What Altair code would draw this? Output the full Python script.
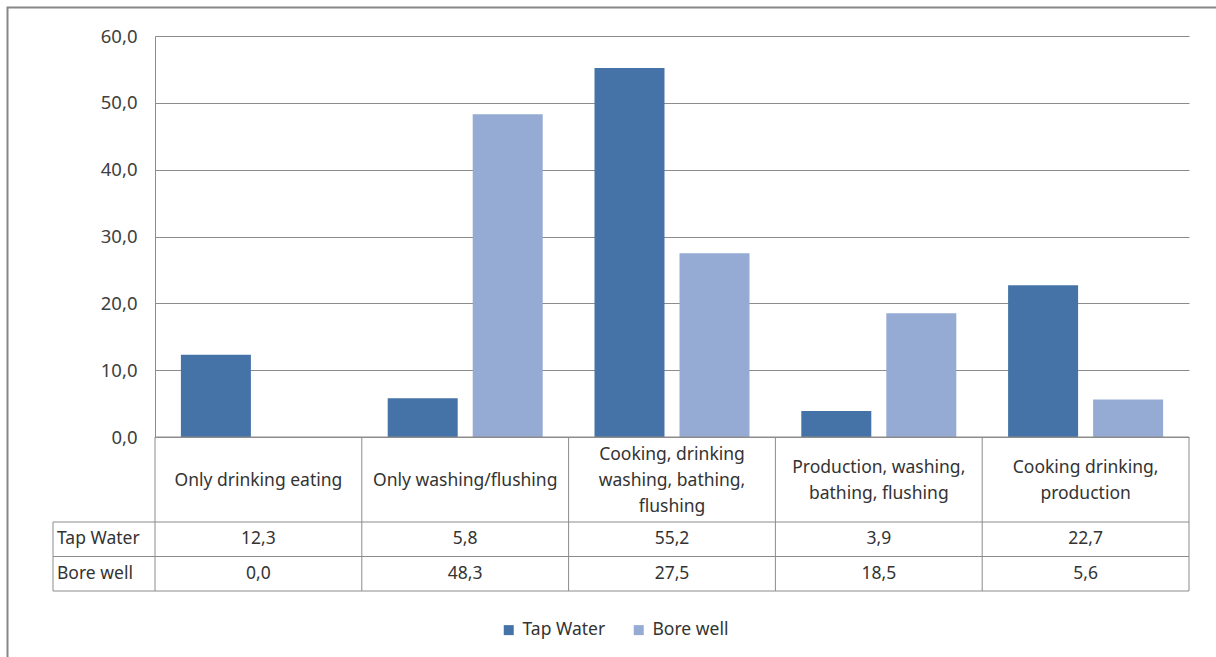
import altair as alt
import pandas as pd

# Household water use by source (%)
categories = [
    "Only drinking eating",
    "Only washing/flushing",
    "Cooking, drinking washing, bathing, flushing",
    "Production, washing, bathing, flushing",
    "Cooking drinking, production",
]
# category captions as wrapped in the table header
header_lines = [
    "Only drinking eating",
    "Only washing/flushing",
    "Cooking, drinking\nwashing, bathing,\nflushing",
    "Production, washing,\nbathing, flushing",
    "Cooking drinking,\nproduction",
]
series = ["Tap Water", "Bore well"]
tap_water = [12.3, 5.8, 55.2, 3.9, 22.7]
bore_well = [0.0, 48.3, 27.5, 18.5, 5.6]
y_ticks = [0, 10, 20, 30, 40, 50, 60]
colors = ["#4573a7", "#95abd3"]

FONT = "Noto Sans"
TEXT = "#333333"
LINE = "#8c8c8c"
FS = 17.5
LH = 26
W, H = 1034, 401          # plot area
ROW_HEAD, ROW = 85, 34.5  # table row heights
LEFT_COL = 102            # width of the row-label column

def fmt(v):
    return f"{v:.1f}".replace(".", ",")

rows = []
for name, vals in zip(series, [tap_water, bore_well]):
    for c, v in zip(categories, vals):
        rows.append({"category": c, "series": name, "value": v, "label": fmt(v)})
long_df = pd.DataFrame(rows)
cat_df = pd.DataFrame({"category": categories, "header": header_lines,
                       "nlines": [h.count("\n") + 1 for h in header_lines]})
series_df = pd.DataFrame({"series": series})

x_enc = alt.X("category:N", sort=categories, axis=None,
              scale=alt.Scale(paddingInner=0, paddingOuter=0))
x_mid = alt.X("category:N", sort=categories, axis=None, bandPosition=0.5,
              scale=alt.Scale(paddingInner=0, paddingOuter=0))
x_edge = alt.X("category:N", sort=categories, axis=None, bandPosition=0,
               scale=alt.Scale(paddingInner=0, paddingOuter=0))

bars = alt.Chart(long_df).mark_bar().encode(
    x=x_enc,
    xOffset=alt.XOffset("series:N", sort=series,
                        scale=alt.Scale(paddingInner=0.1765, paddingOuter=0.3046)),
    y=alt.Y("value:Q",
            scale=alt.Scale(domain=[0, 60], nice=False),
            axis=alt.Axis(values=y_ticks, title=None, grid=True, gridColor=LINE,
                          gridWidth=1, domain=True, domainColor=LINE, ticks=False,
                          labelPadding=18, labelFontSize=18.5, labelFont=FONT,
                          labelColor="#404040",
                          labelExpr="replace(format(datum.value, '.1f'), '.', ',')")),
    color=alt.Color("series:N", sort=series,
                    scale=alt.Scale(domain=series, range=colors),
                    legend=alt.Legend(title=None, orient="none", direction="horizontal",
                                      legendX=345, legendY=585, symbolType="square",
                                      symbolSize=100, symbolStrokeWidth=0,
                                      labelFontSize=FS, labelFont=FONT,
                                      labelColor=TEXT, labelOffset=5,
                                      columnPadding=24, padding=0)),
)

layers = [bars]

# table header with category captions, block-centred in the header row
for n in sorted(cat_df["nlines"].unique()):
    layers.append(
        alt.Chart(cat_df).transform_filter(alt.datum.nlines == int(n)).mark_text(
            lineBreak="\n", baseline="middle", align="center", fontSize=FS,
            font=FONT, color=TEXT, lineHeight=LH,
        ).encode(x=x_mid, y=alt.value(H + ROW_HEAD / 2 + 1 - (int(n) - 1) * LH / 2),
                 text="header:N")
    )

# table rows: series names and values
for i, name in enumerate(series):
    yc = H + ROW_HEAD + ROW * i + ROW / 2
    layers.append(
        alt.Chart(long_df).transform_filter(alt.datum.series == name).mark_text(
            baseline="middle", align="center", fontSize=FS, font=FONT, color=TEXT,
        ).encode(x=x_mid, y=alt.value(yc), text="label:N")
    )
    layers.append(
        alt.Chart(series_df).transform_filter(alt.datum.series == name).mark_text(
            baseline="middle", align="left", fontSize=FS, font=FONT, color=TEXT,
        ).encode(x=alt.value(-LEFT_COL + 4), y=alt.value(yc), text="series:N")
    )

# table grid lines
bottom = H + ROW_HEAD + 2 * ROW
hlines = [(0, H), (-LEFT_COL, H + ROW_HEAD), (-LEFT_COL, H + ROW_HEAD + ROW),
          (-LEFT_COL, bottom)]
for x0, yy in hlines:
    layers.append(
        alt.Chart(cat_df.head(1)).mark_rule(color=LINE, strokeWidth=1).encode(
            x=alt.value(x0), x2=alt.value(W), y=alt.value(yy))
    )
layers.append(
    alt.Chart(cat_df).mark_rule(color=LINE, strokeWidth=1).encode(
        x=x_edge, y=alt.value(H), y2=alt.value(bottom))
)
layers.append(
    alt.Chart(cat_df.head(1)).mark_rule(color=LINE, strokeWidth=1).encode(
        x=alt.value(W), y=alt.value(H), y2=alt.value(bottom))
)
layers.append(
    alt.Chart(cat_df.head(1)).mark_rule(color=LINE, strokeWidth=1).encode(
        x=alt.value(-LEFT_COL), y=alt.value(H + ROW_HEAD), y2=alt.value(bottom))
)

# outer chart frame
layers.append(
    alt.Chart(cat_df.head(1)).mark_rect(fill=None, stroke="#878787", strokeWidth=2).encode(
        x=alt.value(-147.5), y=alt.value(-28.5), x2=alt.value(W + 200), y2=alt.value(H + 300))
)

chart = alt.layer(*layers).properties(
    width=W, height=H,
    autosize=alt.AutoSizeParams(type="none"),
    padding={"left": 155, "top": 36, "right": 27, "bottom": 220},
    background="white",
).configure_view(stroke=None)

chart.save("out.html", embed_options={"renderer": "svg", "actions": False})
